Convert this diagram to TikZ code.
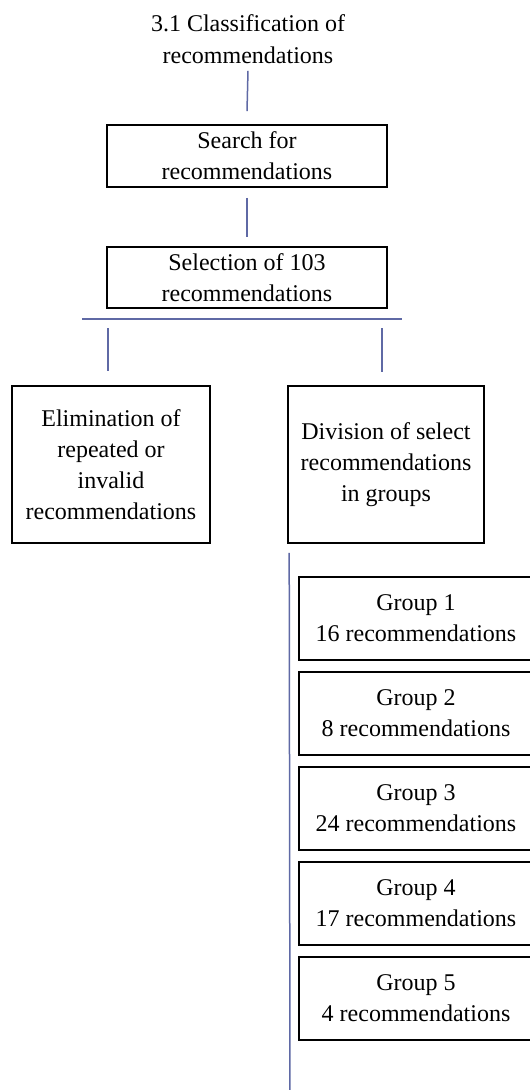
\documentclass[tikz,border=0pt]{standalone}
\usepackage{fontspec}
\setmainfont{Liberation Serif}
\definecolor{linkblue}{RGB}{95,105,165}
\begin{document}
\begin{tikzpicture}[x=1pt,y=-1pt,
  box/.style={draw=black,line width=1.6pt,inner sep=0pt,align=center,
    font=\fontsize{24}{31}\selectfont},
  conn/.style={draw=linkblue,line width=1.5pt}]
\clip (0,0) rectangle (530,1090);
\fill[white] (0,0) rectangle (530,1090);
\node[inner sep=0pt,align=center,font=\fontsize{24}{32}\selectfont] (title) at (248,39)
  {3.1 Classification of\\recommendations};
\node[box,minimum width=280pt,minimum height=62pt] (search) at (247,156)
  {Search for\\recommendations};
\node[box,minimum width=280pt,minimum height=61pt] (sel) at (247,277.5)
  {Selection of 103\\recommendations};
\node[box,minimum width=198pt,minimum height=157pt] (elim) at (111,464.5)
  {Elimination of\\repeated or\\invalid\\recommendations};
\node[box,minimum width=196pt,minimum height=157pt] (div) at (386,464.5)
  {Division of select\\recommendations\\in groups};
\foreach \i/\n in {1/16,2/8,3/24,4/17,5/4}{
  \node[box,minimum width=234pt,minimum height=83pt] (g\i) at (416,{618.5+95*(\i-1)})
    {Group \i\\\n\ recommendations};
}
\coordinate (hl) at (82,319);
\coordinate (hr) at (402,319);
\coordinate (bot) at (290,1095);
\draw[conn] ([yshift=-7pt]title.south) -- ([yshift=13pt]search.north);
\draw[conn] ([yshift=-10pt]search.south) -- ([yshift=9pt]sel.north);
\draw[conn] (hl) -- (hr);
\draw[conn] ([xshift=-3pt,yshift=57pt]elim.north) -- ([xshift=-3pt,yshift=14pt]elim.north);
\draw[conn] ([xshift=-4pt,yshift=57pt]div.north) -- ([xshift=-4pt,yshift=13pt]div.north);
\draw[conn] ([xshift=2pt,yshift=-9pt]div.south west) -- (bot);
\end{tikzpicture}
\end{document}
